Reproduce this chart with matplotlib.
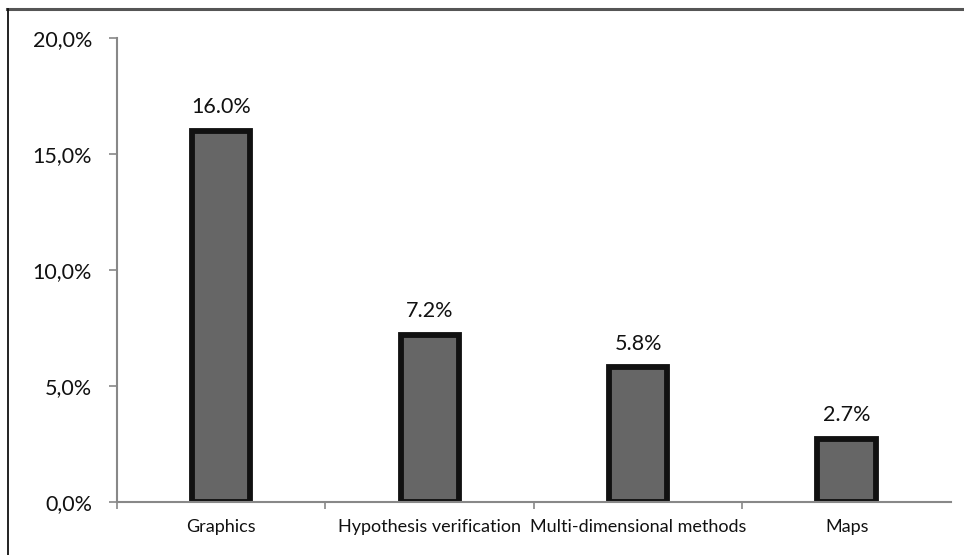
import matplotlib
matplotlib.use("Agg")
import matplotlib.pyplot as plt
from matplotlib.lines import Line2D
from matplotlib.ticker import FuncFormatter

categories = ["Graphics", "Hypothesis verification", "Multi-dimensional methods", "Maps"]
shares = [0.160, 0.072, 0.058, 0.027]
bar_labels = ["16.0%", "7.2%", "5.8%", "2.7%"]

plt.rcParams["font.family"] = ["Lato", "DejaVu Sans"]

fig = plt.figure(figsize=(9.64, 5.55), dpi=100)
ax = fig.add_axes([0.1214, 0.0955, 0.865, 0.836])

x = list(range(len(categories)))
bars = ax.bar(x, shares, width=0.28, color="#666666", edgecolor="#111111", linewidth=4.2)

# value labels above each bar
for rect, txt in zip(bars, bar_labels):
    ax.annotate(txt, (rect.get_x() + rect.get_width() / 2, rect.get_height()),
                xytext=(0, 10), textcoords="offset points",
                ha="center", va="bottom", fontsize=15.5, color="#111111")

ax.set_xlim(-0.5, len(categories) - 0.5)
ax.set_ylim(0, 0.20)
ax.set_yticks([0, 0.05, 0.10, 0.15, 0.20])
ax.yaxis.set_major_formatter(FuncFormatter(lambda v, p: ("%.1f%%" % (v * 100)).replace(".", ",")))

# category boundaries get the tick marks, names sit at the centres
ax.set_xticks([i - 0.5 for i in range(len(categories))])
ax.set_xticklabels([])
ax.set_xticks(x, minor=True)
ax.set_xticklabels(categories, minor=True, fontsize=13, color="#111111")
ax.tick_params(axis="x", which="minor", length=0, pad=12)
ax.tick_params(axis="x", which="major", length=5, width=1.2, color="#888888", direction="out")
ax.tick_params(axis="y", length=6, width=1.2, color="#888888", labelsize=15.5,
               labelcolor="#111111", pad=12)

for side in ["top", "right"]:
    ax.spines[side].set_visible(False)
for side in ["left", "bottom"]:
    ax.spines[side].set_color("#888888")
    ax.spines[side].set_linewidth(1.5)

# frame lines along the top and left edges
fig.add_artist(Line2D([7 / 964, 1.0], [1 - 8.5 / 555, 1 - 8.5 / 555], color="#555555", lw=2.2,
                      transform=fig.transFigure))
fig.add_artist(Line2D([7.5 / 964, 7.5 / 964], [0, 1 - 8.5 / 555], color="#111111", lw=1.3,
                      transform=fig.transFigure))

fig.savefig("out.png", dpi=100)
